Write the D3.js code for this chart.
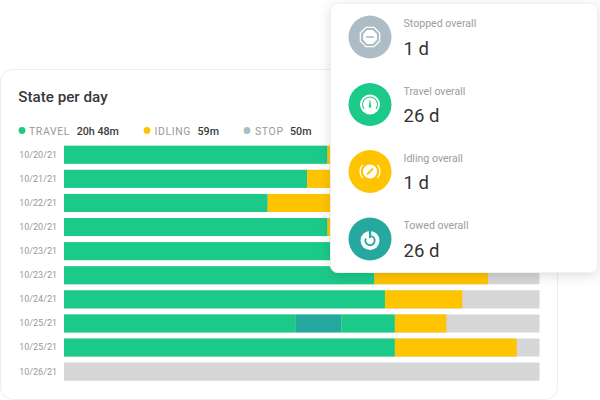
<!DOCTYPE html>
<html>
<head>
<meta charset="utf-8">
<script src="https://cdn.jsdelivr.net/npm/d3@7"></script>
<style>
  html, body { margin: 0; padding: 0; background: #fff; }
  svg { display: block; font-family: Roboto, sans-serif; }
</style>
</head>
<body>
<div id="chart"></div>
<script>
// Hours per day, in the order they are stacked on each row
const days = ["10/20/21", "10/21/21", "10/22/21", "10/20/21", "10/23/21", "10/23/21", "10/24/21", "10/25/21", "10/25/21", "10/26/21"];
const travelFirst = [13.3, 12.27, 10.28, 13.3, 16.0, 15.67, 16.2, 11.7, 16.7, 0];
const towed = [0, 0, 0, 0, 0, 0, 0, 2.3, 0, 0];
const travelSecond = [0, 0, 0, 0, 0, 0, 0, 2.7, 0, 0];
const idling = [0.9, 3.0, 5.0, 0.9, 3.0, 5.73, 3.9, 2.6, 6.15, 0];
const hoursInDay = 24;

const legendNames = ["TRAVEL", "IDLING", "STOP"];
const legendValues = ["20h 48m", "59m", "50m"];

const overallNames = ["Stopped overall", "Travel overall", "Idling overall", "Towed overall"];
const overallValues = ["1 d", "26 d", "1 d", "26 d"];

const green = "#1bca88", yellow = "#ffc400", grey = "#aebdc5", teal = "#25a99f", track = "#d6d6d6";

const svg = d3.select("#chart").append("svg")
  .attr("width", 600)
  .attr("height", 400);

const defs = svg.append("defs");
const shadow = defs.append("filter").attr("id", "card-shadow")
  .attr("x", "-10%").attr("y", "-10%").attr("width", "120%").attr("height", "120%");
shadow.append("feDropShadow")
  .attr("dx", 0).attr("dy", 3)
  .attr("stdDeviation", 6)
  .attr("flood-color", "#000")
  .attr("flood-opacity", 0.13);

// Back card
svg.append("rect")
  .attr("x", 0.5).attr("y", 69.5)
  .attr("width", 557).attr("height", 330)
  .attr("rx", 12)
  .attr("fill", "#fff")
  .attr("stroke", "#ececec");

svg.append("text")
  .attr("x", 18.3).attr("y", 102)
  .attr("font-size", 15.2)
  .attr("font-weight", 500)
  .attr("fill", "#383838")
  .text("State per day");

// Legend
const legendX = [22, 147, 247];
const legendLabelX = [29, 154.5, 255];
const legendValueX = [76.7, 197.5, 290];
const legendColors = [green, yellow, grey];
legendNames.forEach((name, i) => {
  svg.append("circle")
    .attr("cx", legendX[i]).attr("cy", 130.5)
    .attr("r", 3.4)
    .attr("fill", legendColors[i]);
  svg.append("text")
    .attr("x", legendLabelX[i]).attr("y", 134.5)
    .attr("font-size", 10.5)
    .attr("letter-spacing", 0.6)
    .attr("fill", "#999")
    .text(name);
  svg.append("text")
    .attr("x", legendValueX[i]).attr("y", 134.5)
    .attr("font-size", 10.7)
    .attr("font-weight", 500)
    .attr("fill", "#3a3a3a")
    .text(legendValues[i]);
});

// Bars
const x = d3.scaleLinear().domain([0, hoursInDay]).range([64, 539.5]);
const y = d3.scaleBand()
  .domain(d3.range(days.length))
  .range([142.7, 383.7])
  .paddingInner(0.25)
  .paddingOuter(0.125);

svg.append("g")
  .attr("transform", "translate(64,0)")
  .call(d3.axisLeft(y).tickSize(0).tickPadding(7).tickFormat(i => days[i]))
  .call(g => g.select(".domain").remove())
  .call(g => g.selectAll("text")
    .attr("font-family", "Roboto, sans-serif")
    .attr("font-size", 9)
    .attr("fill", "#999"));

svg.append("g").selectAll("rect")
  .data(days)
  .join("rect")
  .attr("x", x(0))
  .attr("y", (d, i) => y(i))
  .attr("width", x(hoursInDay) - x(0))
  .attr("height", y.bandwidth())
  .attr("rx", 1)
  .attr("fill", track);

const rows = days.map((d, i) => ({
  travelFirst: travelFirst[i],
  towed: towed[i],
  travelSecond: travelSecond[i],
  idling: idling[i]
}));
const stackKeys = ["travelFirst", "towed", "travelSecond", "idling"];
const stackColors = { travelFirst: green, towed: teal, travelSecond: green, idling: yellow };

svg.append("g").selectAll("g")
  .data(d3.stack().keys(stackKeys)(rows))
  .join("g")
  .attr("fill", d => stackColors[d.key])
  .selectAll("rect")
  .data(d => d)
  .join("rect")
  .attr("x", d => x(d[0]))
  .attr("y", (d, i) => y(i))
  .attr("width", d => x(d[1]) - x(d[0]))
  .attr("height", y.bandwidth());

// Front card
svg.append("rect")
  .attr("x", 330.5).attr("y", 3.5)
  .attr("width", 267).attr("height", 269)
  .attr("rx", 7)
  .attr("fill", "#fff")
  .attr("stroke", "#f0f0f0")
  .attr("filter", "url(#card-shadow)");

const overallY = [37, 104.5, 171.5, 239];
const overallColors = [grey, green, yellow, teal];

const item = svg.append("g").selectAll("g")
  .data(overallNames)
  .join("g")
  .attr("transform", (d, i) => `translate(370,${overallY[i]})`);

item.append("circle")
  .attr("r", 21.5)
  .attr("fill", (d, i) => overallColors[i]);

item.append("text")
  .attr("x", 33.5).attr("y", -10)
  .attr("font-size", 10.6)
  .attr("fill", "#9c9c9c")
  .text(d => d);

item.append("text")
  .attr("x", 33.5).attr("y", 17.5)
  .attr("font-size", 18.5)
  .attr("fill", "#333")
  .text((d, i) => overallValues[i]);

// Icons
const octagon = r => d3.range(8).map(k => {
  const a = Math.PI / 8 + k * Math.PI / 4;
  return [r * Math.cos(a), r * Math.sin(a)].join(",");
}).join(" ");

const stopIcon = d3.select(item.nodes()[0]);
stopIcon.append("polygon").attr("points", octagon(10.5)).attr("fill", "none").attr("stroke", "#fff").attr("stroke-width", 1.2);
stopIcon.append("polygon").attr("points", octagon(7.5)).attr("fill", "#fff");
stopIcon.append("rect").attr("x", -4).attr("y", -0.8).attr("width", 8).attr("height", 1.6).attr("fill", grey);

const travelIcon = d3.select(item.nodes()[1]);
travelIcon.append("circle").attr("r", 10).attr("fill", "#fff");
travelIcon.append("path")
  .attr("d", d3.arc()({ innerRadius: 7, outerRadius: 8, startAngle: -2.2, endAngle: 2.2 }))
  .attr("fill", green);
travelIcon.append("path").attr("d", "M-1.3,3L0,-6L1.3,3Z").attr("fill", green);

const idleIcon = d3.select(item.nodes()[2]);
idleIcon.append("circle").attr("r", 7).attr("fill", "#fff");
idleIcon.append("line")
  .attr("x1", -3).attr("y1", 3).attr("x2", 3).attr("y2", -3)
  .attr("stroke", yellow).attr("stroke-width", 1.8);
[[-2.3, -0.85], [0.85, 2.3]].forEach(a => {
  idleIcon.append("path")
    .attr("d", d3.arc()({ innerRadius: 9.3, outerRadius: 10.6, startAngle: a[0], endAngle: a[1] }))
    .attr("fill", "#fff");
});

const towIcon = d3.select(item.nodes()[3]);
towIcon.append("circle").attr("cy", 1.5).attr("r", 9.5).attr("fill", "#fff");
towIcon.append("path")
  .attr("transform", "translate(0,1.5)")
  .attr("d", d3.arc()({ innerRadius: 3.8, outerRadius: 5.6, startAngle: 0.3, endAngle: 5.2 }))
  .attr("fill", teal);
towIcon.append("rect").attr("x", -1).attr("y", -9).attr("width", 2.2).attr("height", 8).attr("fill", teal);
</script>
</body>
</html>
